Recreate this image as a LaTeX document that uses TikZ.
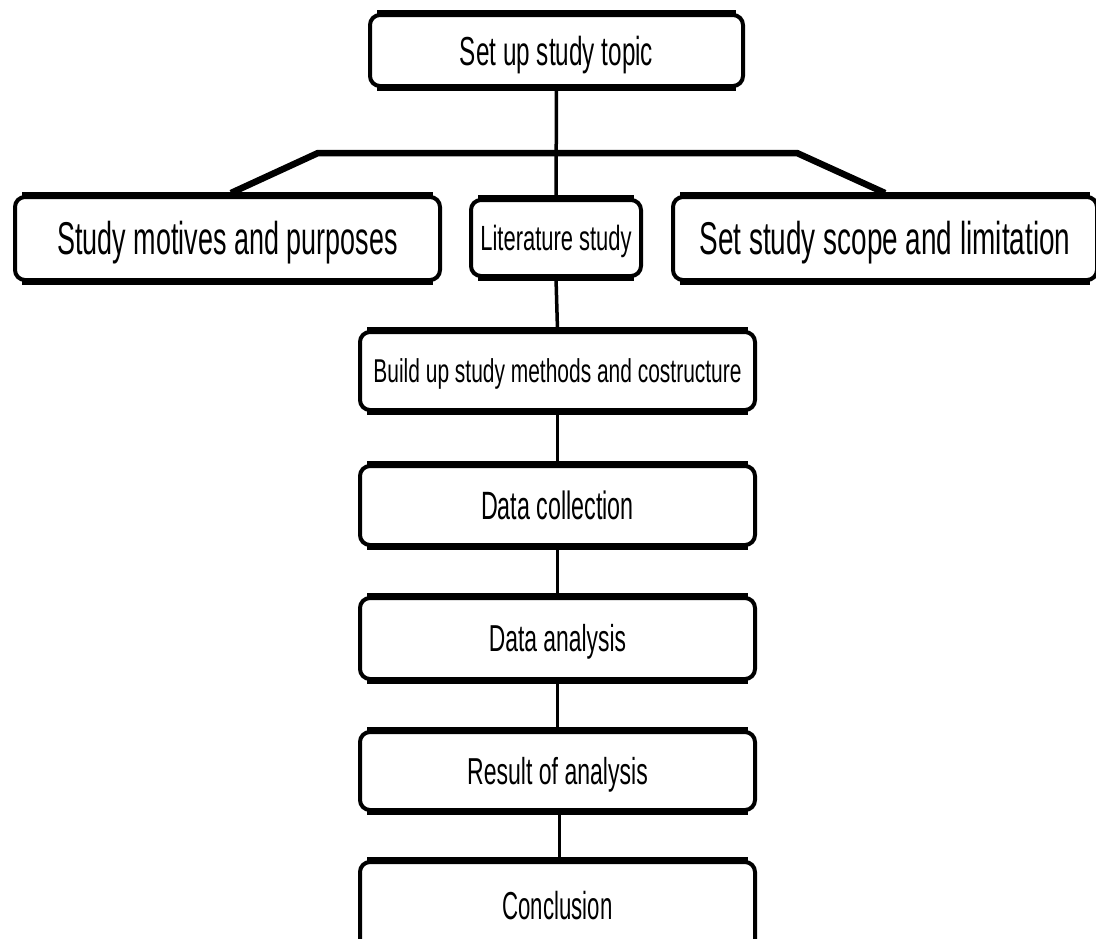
\documentclass[tikz,border=0pt]{standalone}
\usepackage{fontspec}
\usepackage{graphicx}
\setmainfont{Liberation Sans}
\usetikzlibrary{calc}

% horizontally condensed label text
\newcommand{\narrow}[2]{\scalebox{#1}[1]{#2}}

\begin{document}
\begin{tikzpicture}[x=1pt,y=-1pt,
  stepbox/.style={draw=black, line width=4pt, rounded corners=10pt, fill=white,
    inner sep=0pt, text depth=0pt, align=center},
  fs/.style={font=\fontsize{#1}{#1}\selectfont, text height={0.716*#1pt}},
  link/.style={line width=3.5pt},
  bar/.style={line width=6.5pt, line join=miter},
  edge/.style={line width=6.5pt}
]
\useasboundingbox (0,0) rectangle (1096,938);

% branch bar ends
\coordinate (barL) at (318,153);
\coordinate (barR) at (797,153);

% boxes
\node[stepbox, fs=40.5, minimum width=373pt, minimum height=71pt] (topic) at (556.5,50.5)
  {\narrow{0.60}{Set up study topic}};
\node[stepbox, fs=46, minimum width=425pt, minimum height=83pt] (motive) at (227.5,238.5)
  {\narrow{0.586}{Study motives and purposes}};
\node[stepbox, fs=35, minimum width=170pt, minimum height=76pt] (lit) at (556,238)
  {\narrow{0.627}{Literature study}};
\node[stepbox, fs=46, minimum width=424pt, minimum height=83pt] (scope) at (885,238.5)
  {\narrow{0.607}{Set study scope and limitation}};
\node[stepbox, fs=33, minimum width=395pt, minimum height=78pt] (build) at (557.5,371)
  {\narrow{0.635}{Build up study methods and costructure}};
\node[stepbox, fs=39.5, minimum width=395pt, minimum height=79pt] (collect) at (557.5,505.5)
  {\narrow{0.59}{Data collection}};
\node[stepbox, fs=37.5, minimum width=395pt, minimum height=81pt] (analysis) at (557.5,638.5)
  {\narrow{0.61}{Data analysis}};
\node[stepbox, fs=37.5, minimum width=395pt, minimum height=78pt] (result) at (557.5,771)
  {\narrow{0.615}{Result of analysis}};
\node[stepbox, fs=39, minimum width=395pt, minimum height=88pt] (concl) at (557.5,906)
  {\narrow{0.57}{Conclusion}};

% heavier top and bottom edges of every box
\foreach \n in {topic,motive,lit,scope,build,collect,analysis,result,concl}{
  \draw[edge] ($(\n.north west)+(9pt,0)$) -- ($(\n.north east)-(9pt,0)$);
  \draw[edge] ($(\n.south west)+(9pt,0)$) -- ($(\n.south east)-(9pt,0)$);
}

% connectors
\draw[link] (topic.south) -- (lit.north);
\coordinate (motiveTop) at (231,193);
\coordinate (scopeTop) at (885,193);
\draw[bar] (motiveTop) -- (barL) -- (barR) -- (scopeTop);
\draw[link] (lit.south) -- (build.north);
\draw[link] (build.south) -- (collect.north);
\draw[link] (collect.south) -- (analysis.north);
\draw[link] (analysis.south) -- (result.north);
\draw[link] ($(result.south)+(2,0)$) -- ($(concl.north)+(2,0)$);
\end{tikzpicture}
\end{document}
